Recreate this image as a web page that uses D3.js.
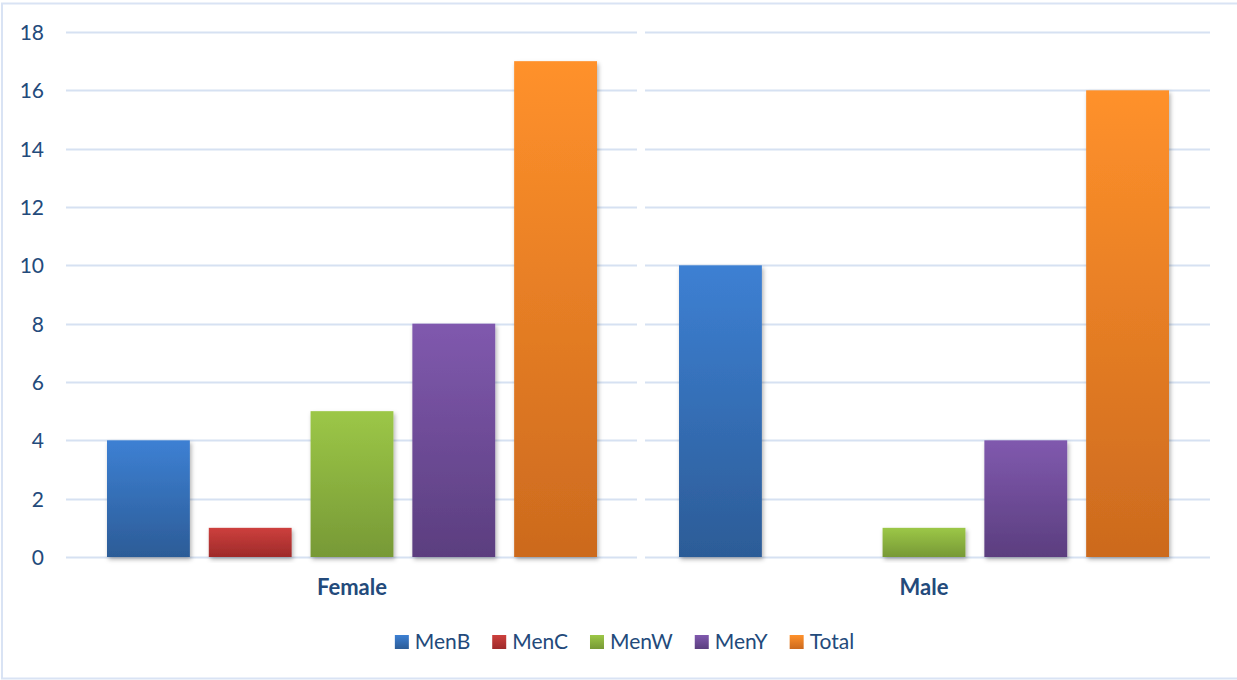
<!DOCTYPE html>
<html>
<head>
<meta charset="utf-8">
<script src="https://cdn.jsdelivr.net/npm/d3@7"></script>
<style>
  html, body { margin: 0; padding: 0; background: #fff; }
  #chart { width: 1237px; height: 680px; }
  text { font-family: Lato, "Open Sans", sans-serif; fill: #234A7B; }
</style>
</head>
<body>
<div id="chart"></div>
<script>
// Data
const groups = ["Female", "Male"];
const series = ["MenB", "MenC", "MenW", "MenY", "Total"];
const femaleValues = [4, 1, 5, 8, 17];
const maleValues = [10, 0, 1, 4, 16];
const yTicks = [0, 2, 4, 6, 8, 10, 12, 14, 16, 18];
const colorTop = ["#3D80D3", "#CD403D", "#9CC747", "#8059AE", "#FF912B"];
const colorBottom = ["#2C5C97", "#9E2A2A", "#779936", "#5B3E7F", "#CC6A1E"];

const valuesByGroup = { Female: femaleValues, Male: maleValues };

const width = 1237, height = 680;
const margin = { top: 32, right: 27, bottom: 123, left: 66 };

const svg = d3.select('#chart')
  .append("svg")
  .attr('width', width)
  .attr('height', height)
  .attr('viewBox', [0, 0, width, height]);

const defs = svg.append("defs");

// vertical gradients, light on top, dark at the bottom
series.forEach((s, i) => {
  const g = defs.append("linearGradient")
    .attr("id", "grad-" + s)
    .attr("x1", 0).attr("y1", 0)
    .attr("x2", 0).attr("y2", 1);
  g.append("stop").attr("offset", "0%").attr("stop-color", colorTop[i]);
  g.append("stop").attr("offset", "100%").attr("stop-color", colorBottom[i]);
});

const shadow = defs.append("filter")
  .attr("id", "shadow")
  .attr("x", "-10%").attr("y", "-10%")
  .attr("width", "130%").attr("height", "130%");
shadow.append("feDropShadow")
  .attr("dx", 1.5).attr("dy", 2.5)
  .attr("stdDeviation", 2)
  .attr("flood-color", "#000")
  .attr("flood-opacity", 0.3);

// outer border
svg.append("rect")
  .attr("x", 2).attr("y", 3.5)
  .attr("width", width + 10).attr("height", 675)
  .attr("fill", "none")
  .attr("stroke", "#D9E3F4")
  .attr("stroke-width", 2);

const x0 = d3.scaleBand()
  .domain(groups)
  .range([margin.left, width - margin.right]);

const x1 = d3.scaleBand()
  .domain(series)
  .range([41, x0.bandwidth() - 41])
  .paddingInner(0.186);

const y = d3.scaleLinear()
  .domain([0, 18])
  .range([height - margin.bottom, margin.top]);

// gridlines, split per category with a small gap in the middle
const gridG = svg.append("g").attr('class', "grid");
groups.forEach((g, gi) => {
  const xa = x0(g) + (gi > 0 ? 7 : 0);
  const xb = x0(g) + x0.bandwidth() - (gi < groups.length - 1 ? 1 : 0);
  gridG.selectAll(".gl-" + g)
    .data(yTicks)
    .join("line")
    .attr("x1", xa).attr("x2", xb)
    .attr("y1", d => Math.round(y(d)) + 0.5)
    .attr("y2", d => Math.round(y(d)) + 0.5)
    .attr("stroke", "#D6E1F2")
    .attr("stroke-width", 2);
});

// y axis labels
const yAxis = d3.axisLeft(y).tickValues(yTicks).tickSize(0).tickPadding(0);
const yG = svg.append("g")
  .attr("transform", "translate(44,0)")
  .call(yAxis);
yG.select(".domain").remove();
yG.selectAll("text")
  .attr("fill", null)
  .style("font-size", "21px")
  .attr("dy", "0.36em");

// bars
const groupG = svg.selectAll(".groupG")
  .data(groups)
  .join("g")
  .attr('class', "groupG")
  .attr("transform", d => `translate(${x0(d)},0)`);

groupG.selectAll("rect")
  .data(g => series.map((s, i) => ({ key: s, value: valuesByGroup[g][i] })))
  .join("rect")
  .attr("x", d => x1(d.key))
  .attr("width", x1.bandwidth())
  .attr("y", d => y(d.value))
  .attr("height", d => y(0) - y(d.value))
  .attr("fill", d => `url(#grad-${d.key})`)
  .attr("filter", "url(#shadow)")
  .style("display", d => d.value === 0 ? "none" : null);

// category labels
svg.selectAll(".catLabel")
  .data(groups)
  .join("text")
  .attr('class', "catLabel")
  .attr("x", d => x0(d) + x0.bandwidth() / 2)
  .attr("y", 595)
  .attr("text-anchor", "middle")
  .style("font-size", "22px")
  .style("font-weight", "bold")
  .text(d => d);

// legend
const legend = svg.append("g").attr('class', "legend");
const items = legend.selectAll(".item")
  .data(series)
  .join("g")
  .attr('class', "item");

items.append("rect")
  .attr("width", 14).attr("height", 14)
  .attr("y", 635)
  .attr("fill", d => `url(#grad-${d})`);

items.append("text")
  .attr("x", 20)
  .attr("y", 649)
  .style("font-size", "21px")
  .text(d => d);

let cursor = 0;
const offsets = [];
items.each(function () {
  const w = d3.select(this).select("text").node().getComputedTextLength();
  offsets.push(cursor);
  cursor += 20 + w + 22;
});
const totalW = cursor - 22;
const startX = 624.5 - totalW / 2;
items.attr("transform", (d, i) => `translate(${startX + offsets[i]},0)`);
</script>
</body>
</html>
